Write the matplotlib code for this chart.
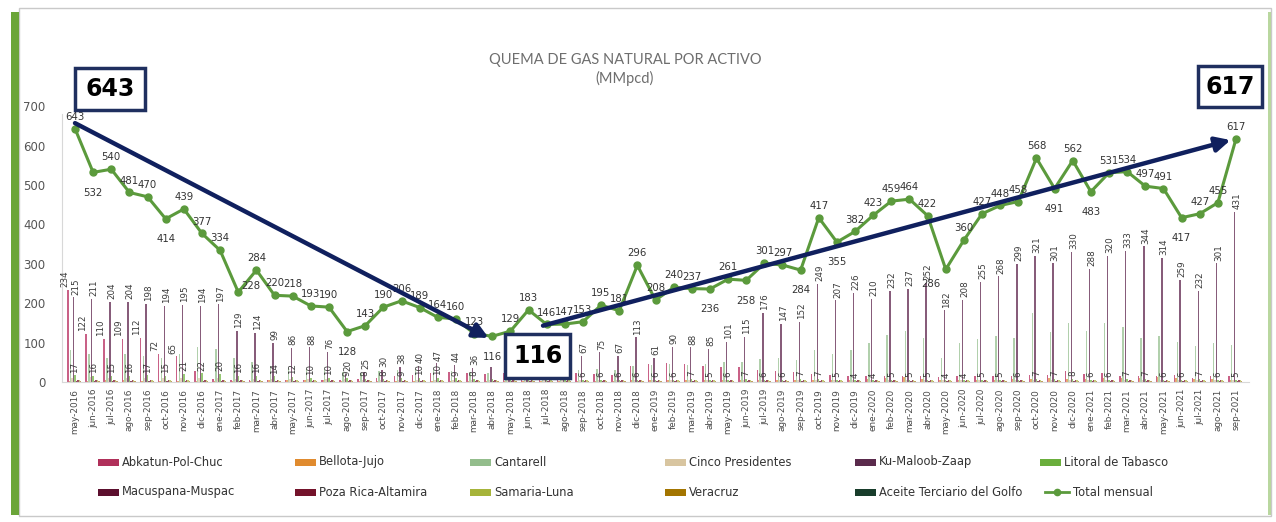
import matplotlib
matplotlib.use("Agg")
import matplotlib.pyplot as plt
from matplotlib.patches import Rectangle
from matplotlib.lines import Line2D

months = ["may-2016","jun-2016","jul-2016","ago-2016","sep-2016","oct-2016","nov-2016","dic-2016",
          "ene-2017","feb-2017","mar-2017","abr-2017","may-2017","jun-2017","jul-2017","ago-2017","sep-2017","oct-2017","nov-2017","dic-2017",
          "ene-2018","feb-2018","mar-2018","abr-2018","may-2018","jun-2018","jul-2018","ago-2018","sep-2018","oct-2018","nov-2018","dic-2018",
          "ene-2019","feb-2019","mar-2019","abr-2019","may-2019","jun-2019","jul-2019","ago-2019","sep-2019","oct-2019","nov-2019","dic-2019",
          "ene-2020","feb-2020","mar-2020","abr-2020","may-2020","jun-2020","jul-2020","ago-2020","sep-2020","oct-2020","nov-2020","dic-2020",
          "ene-2021","feb-2021","mar-2021","abr-2021","may-2021","jun-2021","jul-2021","ago-2021","sep-2021"]

total = [643,532,540,481,470,414,439,377,
         334,228,284,220,218,193,190,128,143,190,206,189,
         164,160,123,116,129,183,146,147,153,195,181,296,
         208,240,237,236,261,258,301,297,284,417,355,382,
         423,459,464,422,286,360,427,448,458,568,491,562,
         483,531,534,497,491,417,427,455,617]

abkatun = [234,122,110,109,112,72,65,27,
           8,6,5,5,4,4,5,6,8,10,14,18,
           22,25,24,20,22,30,28,26,22,20,18,40,
           45,48,45,40,38,37,30,28,25,20,18,16,
           16,14,15,14,12,14,15,16,15,18,17,28,
           20,23,16,15,14,17,11,15,15]
bellota = [3,3,4,4,3,3,3,3,
           3,3,3,4,5,5,4,3,3,3,3,3,
           3,3,3,3,3,3,3,3,3,3,3,4,
           4,4,4,4,4,4,4,4,4,5,5,5,
           8,10,12,8,5,6,6,6,7,8,9,8,
           8,9,10,10,12,10,8,7,6]
cantarell = [80,70,60,72,65,60,70,90,
             85,60,50,40,36,32,30,26,24,28,30,32,
             30,28,26,22,22,24,26,26,30,32,30,40,
             42,45,44,46,50,52,58,60,56,82,72,80,
             100,120,130,112,62,100,108,118,112,175,128,150,
             130,150,140,112,118,102,92,100,95]
cinco = [10,12,11,10,10,9,9,9,
         9,8,8,8,7,7,7,7,6,6,6,6,
         6,6,5,5,5,5,5,5,5,5,5,5,
         5,5,5,5,5,5,6,6,6,6,6,6,
         6,6,6,6,5,5,5,5,5,5,5,5,
         5,5,5,5,5,5,5,5,5]
kmz = [215,211,204,204,198,194,195,194,
       197,129,124,99,86,88,76,20,25,30,38,40,
       47,44,36,39,30,35,25,23,67,75,67,113,
       61,90,88,85,101,115,176,147,152,249,207,226,
       210,232,237,252,182,208,255,268,299,321,301,330,
       288,320,333,344,314,259,232,301,431]
litoral = [17,16,15,16,17,15,21,22,
           20,16,16,14,12,10,10,9,8,8,9,10,
           10,9,8,8,8,7,7,7,6,6,6,6,
           6,6,7,5,6,7,6,6,7,7,5,4,
           4,5,5,5,4,4,5,5,6,7,7,8,
           6,6,7,7,6,6,7,6,5]
macuspana = [2,2,2,2,2,2,2,2,
             2,2,2,2,2,2,2,2,2,2,2,2,
             2,2,2,2,2,2,2,2,2,2,2,2,
             2,2,2,2,2,2,2,2,2,2,2,2,
             2,2,2,2,2,2,2,2,2,2,2,2,
             2,2,2,2,2,2,2,2,2]
pozarica = [5,5,5,5,4,4,4,4,
            4,4,4,4,4,4,4,4,4,4,4,4,
            4,4,4,4,4,4,4,4,4,4,4,4,
            4,4,4,4,4,4,4,4,4,4,4,4,
            4,4,4,4,4,4,4,4,4,4,4,4,
            4,4,4,4,4,4,4,4,4]
samaria = [6,6,6,5,5,5,5,5,
           5,5,5,5,5,5,5,5,5,5,5,5,
           5,5,5,5,5,5,5,5,5,5,5,5,
           5,5,5,5,5,5,5,5,5,5,5,5,
           5,5,5,5,5,5,5,5,5,5,5,5,
           5,5,5,5,5,5,5,5,5]
veracruz = [3,3,3,3,3,3,3,3,
            3,3,3,3,3,3,3,3,3,3,3,3,
            3,3,3,3,3,3,3,3,3,3,3,3,
            3,3,3,3,3,3,3,3,3,3,3,3,
            3,3,3,3,3,3,3,3,3,3,3,3,
            3,3,3,3,3,3,3,3,3]
aceite = [1,1,1,1,1,1,1,1,
          1,1,1,1,1,1,1,1,1,1,1,1,
          1,1,1,1,1,1,1,1,1,1,1,1,
          1,1,1,1,1,1,1,1,1,1,1,1,
          1,1,1,1,1,1,1,1,1,1,1,1,
          1,1,1,1,1,1,1,1,1]

series_names = ["Abkatun-Pol-Chuc","Bellota-Jujo","Cantarell","Cinco Presidentes","Ku-Maloob-Zaap",
                "Litoral de Tabasco","Macuspana-Muspac","Poza Rica-Altamira","Samaria-Luna","Veracruz",
                "Aceite Terciario del Golfo"]
series_vals = [abkatun, bellota, cantarell, cinco, kmz, litoral, macuspana, pozarica, samaria, veracruz, aceite]
series_colors = ["#b0305a","#e08b2f","#93bd8c","#d8c5a0","#5a2a4c","#6aae3c",
                 "#5c0f2e","#74132b","#a6b43a","#a37500","#183d2b"]
bar_colors = ["#c4507a","#e6a060","#a9cba3","#e2d3b6","#7a4a6c","#8cc266",
              "#7c3350","#92394f","#bcc66a","#b8934a","#4a6a5a"]

W, H = 1276, 522
fig = plt.figure(figsize=(W/100, H/100), dpi=100)
fig.patch.set_facecolor("white")

def fx(x): return x / W
def fy(y): return 1 - y / H

# frame
fig.patches.append(Rectangle((fx(19), fy(516)), fx(1271)-fx(19), fy(8)-fy(516),
                             transform=fig.transFigure, fill=False, edgecolor="#c9c9c9", lw=1, zorder=0))
fig.patches.append(Rectangle((fx(11), fy(515)), fx(19)-fx(11), fy(12)-fy(515),
                             transform=fig.transFigure, facecolor="#6ba539", edgecolor="none", zorder=0))
fig.patches.append(Rectangle((fx(1268), fy(515)), fx(1271)-fx(1268), fy(12)-fy(515),
                             transform=fig.transFigure, facecolor="#b9d79f", edgecolor="none", zorder=0))

ax = fig.add_axes([fx(62.3), fy(382), fx(1248.7)-fx(62.3), (382-98.3)/H])
ax.set_facecolor("none")
n = len(months)
xs = list(range(n))
nser = len(series_vals)
bw = 0.078
for k, (vals, col) in enumerate(zip(series_vals, bar_colors)):
    off = (k - (nser - 1) / 2) * bw
    ax.bar([x + off for x in xs], vals, width=bw, color=col, alpha=0.9, linewidth=0, zorder=2)

# bar labels (those hidden behind the "116" box are skipped)
hidden = {23, 24, 25, 26, 27}
def bar_labels(vals, k, cond, dx=0):
    off = (k - (nser - 1) / 2) * bw
    for x, v in zip(xs, vals):
        if cond(x, v) and x not in hidden:
            ax.annotate(str(v), (x + off, v), xytext=(dx, 2), textcoords="offset points",
                        rotation=90, ha="center", va="bottom", fontsize=6.3, color="#3a3a3a", zorder=3)

bar_labels(kmz, 4, lambda x, v: True, dx=1.5)
bar_labels(abkatun, 0, lambda x, v: x < 8 and v > 30, dx=-2.5)
bar_labels(litoral, 5, lambda x, v: True)

# total line
ax.plot(xs, total, color="#5b9a3c", lw=2.2, marker="o", markersize=5, zorder=4)
force_above = {26, 30, 32}
custom = {48: (-11, -7, "center", "top"), 9: (9, 1, "center", "bottom")}
for i, v in enumerate(total):
    if i in custom:
        dx, dy, ha, va = custom[i]
        ax.annotate(str(v), (i, v), xytext=(dx, dy), textcoords="offset points",
                    ha=ha, va=va, fontsize=7.3, color="#333333", zorder=5)
        continue
    prev_v = total[i-1] if i > 0 else v + 1
    next_v = total[i+1] if i < n - 1 else v + 1
    below = v < prev_v and v < next_v and i not in force_above
    ax.annotate(str(v), (i, v), xytext=(0, -11 if below else 5), textcoords="offset points",
                ha="center", va="bottom" if not below else "top", fontsize=7.3, color="#333333", zorder=5)

ax.set_xlim(-0.7, n - 1 + 0.7)
ax.set_ylim(0, 720)
ax.set_yticks([0, 100, 200, 300, 400, 500, 600, 700])
ax.tick_params(axis="y", length=0, labelsize=8.5, labelcolor="#555555", pad=12)
ax.set_xticks(xs)
ax.set_xticklabels(months, rotation=90, fontsize=6.4, color="#4a4a4a")
ax.tick_params(axis="x", length=0, pad=5)
for s in ["top", "right"]:
    ax.spines[s].set_visible(False)
ax.spines["left"].set_color("#d8d8d8")
ax.spines["bottom"].set_color("#d8d8d8")
ax.spines["left"].set_bounds(0, 680)

navy = "#10205e"
ax.annotate("", xy=(22.8, 112), xytext=(0, 657),
            arrowprops=dict(arrowstyle="-|>", color=navy, lw=3.2, mutation_scale=22, shrinkA=0, shrinkB=0),
            annotation_clip=False, zorder=6)
ax.annotate("", xy=(63.7, 614), xytext=(25.8, 143),
            arrowprops=dict(arrowstyle="-|>", color=navy, lw=3.2, mutation_scale=22, shrinkA=0, shrinkB=0),
            annotation_clip=False, zorder=6)

# boxes
boxes = [("643", 75, 68, 145, 110), ("617", 1198, 66, 1262, 107), ("116", 505, 334, 570, 378)]
for txt, x0, y0, x1, y1 in boxes:
    fig.patches.append(Rectangle((fx(x0), fy(y1)), fx(x1)-fx(x0), fy(y0)-fy(y1), transform=fig.transFigure,
                                 facecolor="white", edgecolor="#1f2f5f", lw=2.5, zorder=8))
    fig.text(fx((x0+x1)/2), fy((y0+y1)/2), txt, ha="center", va="center", fontsize=17,
             fontweight="bold", color="black", zorder=9)

# title
fig.text(fx(625), fy(60), "QUEMA DE GAS NATURAL POR ACTIVO", ha="center", va="center",
         fontsize=10.5, color="#6e6e6e", family="Lato")
fig.text(fx(625), fy(78), "(MMpcd)", ha="center", va="center", fontsize=10.5, color="#6e6e6e", family="Lato")

# legend
col_x = [98, 295, 470, 665, 855, 1040]
row_y = [462, 492]
for idx, (name, col) in enumerate(zip(series_names, series_colors)):
    r, c = divmod(idx, 6)
    x, y = col_x[c], row_y[r]
    fig.patches.append(Rectangle((fx(x), fy(y + 3.5)), 21 / W, 7 / H, transform=fig.transFigure,
                                 facecolor=col, edgecolor="none"))
    fig.text(fx(x + 24), fy(y), name, ha="left", va="center", fontsize=8.3, color="#333333")
lx = 1045
fig.lines.append(Line2D([fx(lx), fx(lx + 24)], [fy(492), fy(492)], transform=fig.transFigure,
                        color="#5b9a3c", lw=2))
fig.lines.append(Line2D([fx(lx + 12)], [fy(492)], transform=fig.transFigure, color="#5b9a3c",
                        marker="o", markersize=4.5))
fig.text(fx(lx + 28), fy(492), "Total mensual", ha="left", va="center", fontsize=8.3, color="#333333")

fig.savefig("out.png", dpi=100, facecolor="white")
